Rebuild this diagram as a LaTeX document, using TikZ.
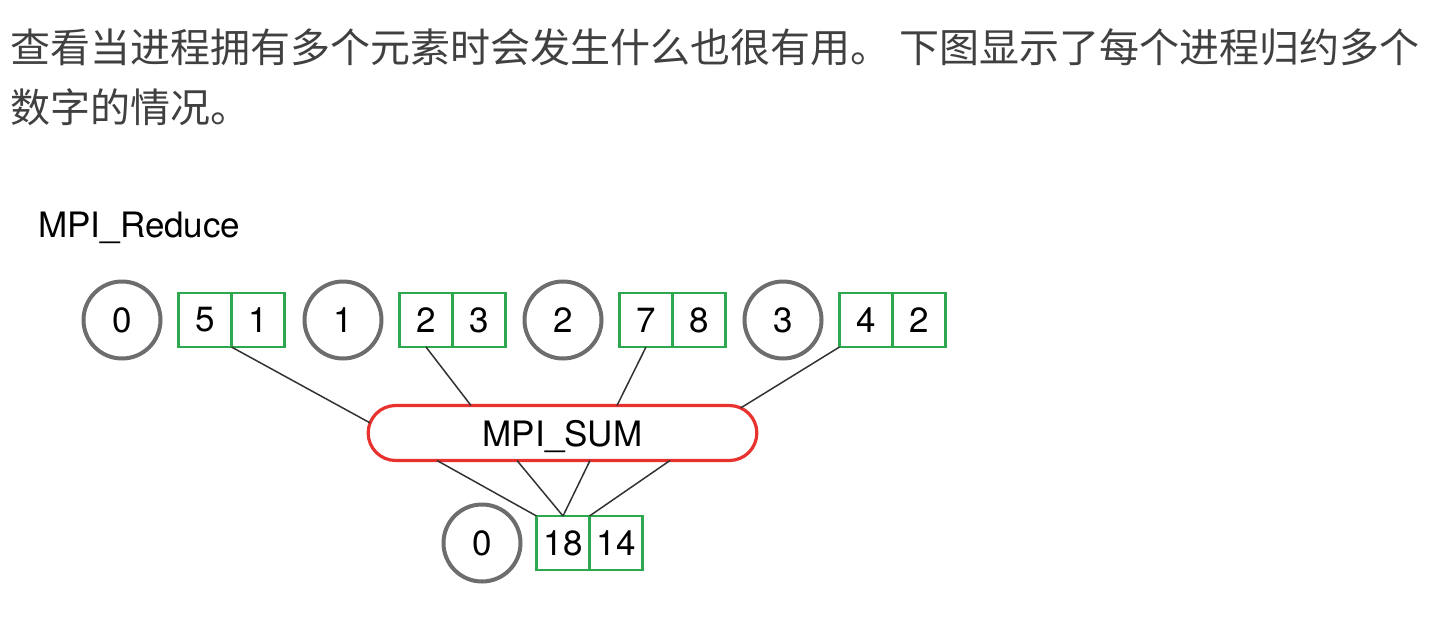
\documentclass[tikz,border=0pt]{standalone}
\usepackage{fontspec}
\setmainfont{TeX Gyre Heros}
\newfontfamily\cjk{Noto Sans CJK SC}
\usepackage{xcolor}
\usepackage{tikz}
\usetikzlibrary{positioning, shapes.misc}

\definecolor{cellgreen}{HTML}{2DA84F}
\definecolor{rankgray}{HTML}{6D6D70}
\definecolor{sumred}{HTML}{E8322E}
\definecolor{textgray}{HTML}{404040}
\definecolor{wiregray}{HTML}{333333}

\begin{document}
\begin{tikzpicture}[
  x=0.5pt, y=-0.5pt,
  rank/.style={
    circle, draw=rankgray, line width=2pt, outer sep=0pt,
    minimum size=38.5pt, inner sep=0pt,
    font=\fontsize{17.5}{21}\selectfont
  },
  cell/.style={
    draw=cellgreen, line width=1.2pt, outer sep=0pt, inner sep=0pt,
    minimum width=26.5pt, minimum height=27pt,
    font=\fontsize{17.5}{21}\selectfont
  },
  op/.style={
    rounded rectangle, draw=sumred, line width=1.6pt, outer sep=0pt,
    minimum width=201pt, minimum height=27.5pt, text depth=0pt,
    font=\fontsize{17.5}{21}\selectfont
  },
  wire/.style={draw=wiregray, line width=0.75pt},
  para/.style={
    anchor=west, inner sep=0pt, text=textgray,
    font=\cjk\fontsize{20}{24}\selectfont
  },
]
\useasboundingbox (0,0) rectangle (1455,643);

%%% Text above
\node[para] (line1) at (10,47)
  {查看当进程拥有多个元素时会发生什么也很有用。 下图显示了每个进程归约多个};
\node[para] (line2) at (10,107) {数字的情况。};

%%% Title
\node[anchor=base west, inner sep=0pt, font=\fontsize{17.5}{21}\selectfont]
  (title) at (38,237) {MPI\_Reduce};

%%% Process 0
\node[rank] (r0) at (122,320) {0};
\node[cell, right=9pt of r0] (c0a) {5};
\node[cell, right=0pt of c0a] (c0b) {1};

%%% Process 1
\node[rank] (r1) at (343,320) {1};
\node[cell, right=9pt of r1] (c1a) {2};
\node[cell, right=0pt of c1a] (c1b) {3};

%%% Process 2
\node[rank] (r2) at (563,320) {2};
\node[cell, right=9pt of r2] (c2a) {7};
\node[cell, right=0pt of c2a] (c2b) {8};

%%% Process 3
\node[rank] (r3) at (783,320) {3};
\node[cell, right=9pt of r3] (c3a) {4};
\node[cell, right=0pt of c3a] (c3b) {2};

%%% Reduction operator
\node[op] (sum) at (562.5,433) {MPI\_SUM};

%%% Root result
\node[rank] (root) at (482,543) {0};
\node[cell, right=8pt of root] (d0a) {18};
\node[cell, right=0pt of d0a] (d0b) {14};

%%% Wires into the operator
\draw[wire] (c0a.south east) -- (sum.177);
\draw[wire] (c1a.south) -- ([xshift=-45.75pt]sum.north);
\draw[wire] (c2a.south) -- ([xshift=27.25pt]sum.north);
\draw[wire] (c3a.south west) -- (sum.8);

%%% Wires out to the root
\draw[wire] ([xshift=-62.75pt]sum.south) -- (d0a.north west);
\draw[wire] ([xshift=-22.75pt]sum.south) -- (d0a.north);
\draw[wire] ([xshift=13.75pt]sum.south) -- (d0a.north);
\draw[wire] ([xshift=53.75pt]sum.south) -- (d0a.north east);

\end{tikzpicture}
\end{document}
